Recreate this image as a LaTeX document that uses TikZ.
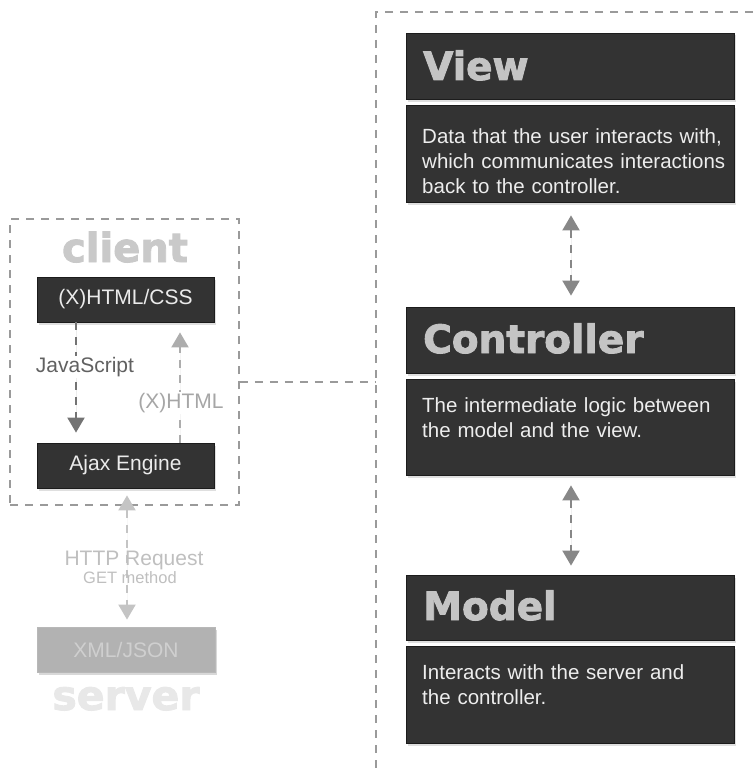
\documentclass[tikz,border=0pt]{standalone}
\usepackage{fontspec}
\setmainfont{Liberation Sans}
\newfontfamily\heavyfont{DejaVu Sans}[BoldFont={DejaVu Sans Bold}]
\usetikzlibrary{arrows.meta,shadows}
\definecolor{boxfill}{HTML}{333333}
\definecolor{boxedge}{HTML}{1C1C1C}
\definecolor{titlegray}{HTML}{C4C4C4}
\definecolor{framegray}{HTML}{9A9A9A}
\newcommand{\heavytxt}[1]{\special{pdf:literal 2 Tr 0.9 w}#1\special{pdf:literal 0 Tr}}
\tikzset{
  frame/.style={draw=framegray, line width=1.8pt, dash pattern=on 8pt off 7pt},
  darkbox/.style={draw=boxedge, line width=0.8pt, fill=boxfill, inner sep=0pt,
    drop shadow={shadow xshift=1.5pt, shadow yshift=-2.5pt, opacity=0.25}},
  smallbox/.style={darkbox, minimum width=177pt, minimum height=45pt,
    text=white!92!black, font=\fontsize{21}{25}\selectfont},
  titletext/.style={anchor=base west, inner sep=0pt, text=titlegray,
    font=\heavyfont\bfseries\fontsize{39}{44}\selectfont},
  desctext/.style={anchor=base west, inner sep=0pt, text=white!93!black,
    align=left, text width=310pt, font=\fontsize{20.5}{25}\selectfont},
  flow/.style={line width=2pt, dash pattern=on 8pt off 7pt,
    -{Triangle[length=15pt,width=17pt]}},
  flowboth/.style={line width=2pt, dash pattern=on 8pt off 7pt,
    {Triangle[length=15pt,width=17pt]}-{Triangle[length=15pt,width=17pt]}},
  lbl/.style={inner sep=1pt, font=\fontsize{21}{25}\selectfont}
}
\begin{document}
\begin{tikzpicture}[x=1pt,y=-1pt]
\useasboundingbox (0,0) rectangle (753,768);

% ---------- right MVC frame ----------
\draw[frame] (753,12) -- (376,12) -- (376,768);
\coordinate (rf) at (376,382);

% View
\node[darkbox, minimum width=328pt, minimum height=66pt] (viewT) at (570,66) {};
\node[titletext] (viewTt) at (423,80) {\heavytxt{View}};
\node[darkbox, minimum width=328pt, minimum height=97pt] (viewD) at (570,153.5) {};
\node[desctext] (viewDt) at (422,143) {Data that the user interacts with,\\which communicates interactions\\back to the controller.};

% Controller
\node[darkbox, minimum width=328pt, minimum height=66pt] (ctrlT) at (570,340) {};
\node[titletext] (ctrlTt) at (423,353) {\heavytxt{Controller}};
\node[darkbox, minimum width=328pt, minimum height=96pt] (ctrlD) at (570,427) {};
\node[desctext] (ctrlDt) at (422,412) {The intermediate logic between\\the model and the view.};

% Model
\node[darkbox, minimum width=328pt, minimum height=65pt] (modT) at (570,607.5) {};
\node[titletext] (modTt) at (423,620) {\heavytxt{Model}};
\node[darkbox, minimum width=328pt, minimum height=97pt] (modD) at (570,694.5) {};
\node[desctext] (modDt) at (422,679) {Interacts with the server and\\the controller.};

\draw[flowboth, draw=black!47, fill=black!47, shorten <=13pt, shorten >=11pt]
  (viewD.south -| 571,0) -- (ctrlT.north -| 571,0);
\draw[flowboth, draw=black!47, fill=black!47, shorten <=10pt, shorten >=9pt]
  (ctrlD.south -| 571,0) -- (modT.north -| 571,0);

% ---------- client frame ----------
\node[frame, minimum width=229pt, minimum height=286pt, inner sep=0pt] (client) at (124.5,362) {};
\node[inner sep=0pt, text=black!21, font=\heavyfont\bfseries\fontsize{40}{44}\selectfont, anchor=base] (clientT) at (125,262) {\heavytxt{client}};

\node[smallbox] (html) at (125.5,299.5) {(X)HTML/CSS};
\node[smallbox] (ajax) at (125.5,465.5) {Ajax Engine};

\draw[flow, draw=black!55, fill=black!55, shorten >=10pt] (html.south -| 76,0) -- (ajax.north -| 76,0);
\node[lbl, fill=white, text=black!62] (js) at (85,367) {JavaScript};

\draw[flow, draw=black!32, fill=black!32, shorten >=10pt] (ajax.north -| 180,0) -- (html.south -| 180,0);
\node[lbl, fill=white, text=black!35] (xh) at (181,403) {(X)HTML};

\draw[frame] (client.east |- rf) -- (rf);

% ---------- server side ----------
\node[darkbox, draw=black!28, fill=black!30, minimum width=178pt, minimum height=45pt,
  text=black!19, font=\fontsize{21}{25}\selectfont,
  drop shadow={shadow xshift=1.5pt, shadow yshift=-2.5pt, opacity=0.08}] (xml) at (126,649.5) {XML/JSON};
\node[inner sep=0pt, text=black!9, font=\heavyfont\bfseries\fontsize{41}{44}\selectfont, anchor=base] (serverT) at (126,710) {\heavytxt{server}};

\draw[flowboth, draw=black!23, fill=black!23, shorten <=7pt, shorten >=7pt]
  (ajax.south -| 127,0) -- (xml.north -| 127,0);
\node[lbl, text=black!25, anchor=base] (http) at (134,565) {HTTP Request};
\node[inner sep=0pt, text=black!25, anchor=base, font=\fontsize{16.5}{18}\selectfont] (get) at (130,583) {GET method};
\end{tikzpicture}
\end{document}
